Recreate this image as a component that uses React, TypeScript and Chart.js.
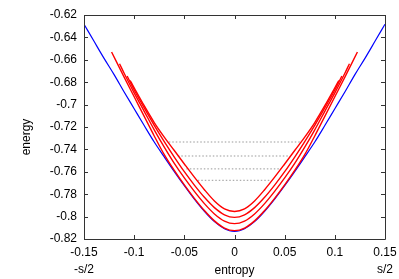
import React, { useEffect, useRef } from "react";
import { Chart, registerables } from "chart.js";
Chart.register(...registerables);

const xTicks = [-0.15, -0.1, -0.05, 0, 0.05, 0.1, 0.15];
const xTickLabels = ["-0.15", "-0.1", "-0.05", "0", "0.05", "0.1", "0.15"];
const xSubLabels = ["-s/2", "", "", "", "", "", "s/2"];
const yTicks = [-0.82, -0.8, -0.78, -0.76, -0.74, -0.72, -0.7, -0.68, -0.66, -0.64, -0.62];
const yTickLabels = ["-0.82", "-0.8", "-0.78", "-0.76", "-0.74", "-0.72", "-0.7", "-0.68", "-0.66", "-0.64", "-0.62"];
const xTitle = "entropy";
const yTitle = "energy";

// blue curve
const blueX = [-0.15, -0.14, -0.13, -0.12, -0.11, -0.1, -0.09, -0.08, -0.07, -0.06, -0.05, -0.04, -0.03, -0.02, -0.01, -0.005, 0,
  0.005, 0.01, 0.02, 0.03, 0.04, 0.05, 0.06, 0.07, 0.08, 0.09, 0.1, 0.11, 0.12, 0.13, 0.14, 0.15];
const blueY = [-0.6282, -0.6435, -0.6587, -0.6732, -0.6887, -0.7037, -0.7187, -0.7334, -0.7467, -0.7598, -0.7724, -0.7844, -0.7953, -0.8045, -0.8109, -0.8126, -0.8132,
  -0.8126, -0.8109, -0.8045, -0.7953, -0.7844, -0.7724, -0.7598, -0.7467, -0.7334, -0.7187, -0.7037, -0.6887, -0.6732, -0.6587, -0.6435, -0.6282];

// red curves
const redAX = [-0.1225, -0.11, -0.1, -0.09, -0.08, -0.07, -0.06, -0.05, -0.04, -0.03, -0.02, -0.01, 0,
  0.01, 0.02, 0.03, 0.04, 0.05, 0.06, 0.07, 0.08, 0.09, 0.1, 0.11, 0.1225];
const redAY = [-0.653, -0.6755, -0.693, -0.7105, -0.728, -0.7447, -0.7588, -0.7717, -0.7837, -0.7946, -0.8038, -0.8102, -0.8125,
  -0.8102, -0.8038, -0.7946, -0.7837, -0.7717, -0.7588, -0.7447, -0.728, -0.7105, -0.693, -0.6755, -0.653];

const redBX = [-0.1146, -0.11, -0.1, -0.09, -0.08, -0.07, -0.06, -0.05, -0.04, -0.03, -0.02, -0.01, 0,
  0.01, 0.02, 0.03, 0.04, 0.05, 0.06, 0.07, 0.08, 0.09, 0.1, 0.11, 0.1146];
const redBY = [-0.6635, -0.672, -0.6895, -0.706, -0.7225, -0.738, -0.7525, -0.7655, -0.7775, -0.7884, -0.7976, -0.804, -0.8063,
  -0.804, -0.7976, -0.7884, -0.7775, -0.7655, -0.7525, -0.738, -0.7225, -0.706, -0.6895, -0.672, -0.6635];

const redCX = [-0.107, -0.1, -0.09, -0.08, -0.07, -0.06, -0.05, -0.04, -0.03, -0.02, -0.01, 0,
  0.01, 0.02, 0.03, 0.04, 0.05, 0.06, 0.07, 0.08, 0.09, 0.1, 0.107];
const redCY = [-0.6745, -0.687, -0.703, -0.7185, -0.733, -0.7468, -0.7599, -0.7719, -0.7828, -0.792, -0.7984, -0.8007,
  -0.7984, -0.792, -0.7828, -0.7719, -0.7599, -0.7468, -0.733, -0.7185, -0.703, -0.687, -0.6745];

const redDX = [-0.104, -0.1, -0.09, -0.08, -0.07, -0.06, -0.05, -0.04, -0.03, -0.02, -0.01, 0,
  0.01, 0.02, 0.03, 0.04, 0.05, 0.06, 0.07, 0.08, 0.09, 0.1, 0.104];
const redDY = [-0.6785, -0.685, -0.701, -0.716, -0.729, -0.741, -0.753, -0.7648, -0.776, -0.786, -0.7931, -0.7954,
  -0.7931, -0.786, -0.776, -0.7648, -0.753, -0.741, -0.729, -0.716, -0.701, -0.685, -0.6785];

// dotted gray levels
const levelY = [-0.7334, -0.7459, -0.7574, -0.7676];
const levelXLeft = [-0.0655, -0.0565, -0.048, -0.0366];
const levelXRight = [0.0665, 0.0548, 0.0465, 0.035];

const FONT = "'Liberation Sans', Arial, Helvetica, sans-serif";

function pts(xs: number[], ys: number[]) {
  return xs.map((x, i) => ({ x, y: ys[i] }));
}

function findIdx(arr: number[], v: number) {
  let best = 0;
  for (let i = 0; i < arr.length; i++) if (Math.abs(arr[i] - v) < Math.abs(arr[best] - v)) best = i;
  return best;
}

const framePlugin = {
  id: "framePlugin",
  afterDraw(chart: any) {
    const { ctx, chartArea } = chart;
    const xs = chart.scales.x;
    const ys = chart.scales.y;
    const { left, right, top, bottom } = chartArea;
    ctx.save();
    ctx.strokeStyle = "#333";
    ctx.lineWidth = 1;
    ctx.beginPath();
    ctx.rect(Math.round(left) + 0.5, Math.round(top) + 0.5, Math.round(right - left), Math.round(bottom - top));
    ctx.stroke();
    const tl = 4;
    ctx.beginPath();
    xTicks.forEach((v) => {
      const px = Math.round(xs.getPixelForValue(v)) + 0.5;
      ctx.moveTo(px, bottom);
      ctx.lineTo(px, bottom - tl);
      ctx.moveTo(px, top);
      ctx.lineTo(px, top + tl);
    });
    yTicks.forEach((v) => {
      const py = Math.round(ys.getPixelForValue(v)) + 0.5;
      ctx.moveTo(left, py);
      ctx.lineTo(left + tl, py);
      ctx.moveTo(right, py);
      ctx.lineTo(right - tl, py);
    });
    ctx.stroke();
    ctx.fillStyle = "#000";
    ctx.font = "12px " + FONT;
    ctx.textAlign = "center";
    ctx.textBaseline = "middle";
    ctx.fillText(xTitle, (left + right) / 2, 271);
    ctx.translate(27, 137);
    ctx.rotate(-Math.PI / 2);
    ctx.fillText(yTitle, 0, 0);
    ctx.restore();
  },
};

export default function App() {
  const ref = useRef<HTMLCanvasElement>(null);
  useEffect(() => {
    document.body.style.margin = "0";
    const common = { showLine: true, pointRadius: 0, borderWidth: 1.4, fill: false, cubicInterpolationMode: "monotone" as const };
    const red = "#ff0000";
    const datasets: any[] = [
      { ...common, data: pts(redAX, redAY), borderColor: red },
      { ...common, data: pts(redBX, redBY), borderColor: red },
      { ...common, data: pts(redCX, redCY), borderColor: red },
      { ...common, data: pts(redDX, redDY), borderColor: red },
      ...levelY.map((y, i) => ({
        showLine: true, pointRadius: 0, borderWidth: 1, fill: false,
        data: [{ x: levelXLeft[i], y }, { x: levelXRight[i], y }],
        borderColor: "#999999", borderDash: [1.5, 2],
      })),
      { ...common, borderWidth: 1.2, data: pts(blueX, blueY), borderColor: "#0000ff" },
    ];
    const chart = new Chart(ref.current!, {
      type: "line",
      data: { datasets },
      plugins: [framePlugin],
      options: {
        animation: false,
        responsive: false,
        devicePixelRatio: 1,
        layout: { padding: { top: 15, right: 14, left: 0, bottom: 0 } },
        plugins: { legend: { display: false }, tooltip: { enabled: false } },
        scales: {
          x: {
            type: "linear",
            min: -0.15,
            max: 0.15,
            afterBuildTicks: (s: any) => { s.ticks = xTicks.map((v) => ({ value: v })); },
            afterFit: (s: any) => { s.height = 40; s.paddingLeft = 0; s.paddingRight = 0; },
            grid: { display: false, drawTicks: false },
            border: { display: false },
            ticks: {
              autoSkip: false,
              maxRotation: 0,
              padding: 6,
              color: "#000",
              font: { family: FONT, size: 12, lineHeight: 1.35 },
              callback: (v: any) => {
                const i = findIdx(xTicks, Number(v));
                return xSubLabels[i] ? [xTickLabels[i], xSubLabels[i]] : xTickLabels[i];
              },
            },
          },
          y: {
            type: "linear",
            min: -0.82,
            max: -0.62,
            afterBuildTicks: (s: any) => { s.ticks = yTicks.map((v) => ({ value: v })); },
            afterFit: (s: any) => { s.width = 84; s.paddingTop = 0; s.paddingBottom = 0; },
            grid: { display: false, drawTicks: false },
            border: { display: false },
            ticks: {
              autoSkip: false,
              padding: 7,
              color: "#000",
              font: { family: FONT, size: 12 },
              callback: (v: any) => yTickLabels[findIdx(yTicks, Number(v))],
            },
          },
        },
      },
    });
    return () => chart.destroy();
  }, []);
  return <canvas ref={ref} width={399} height={279} style={{ display: "block", width: 399, height: 279 }} />;
}
